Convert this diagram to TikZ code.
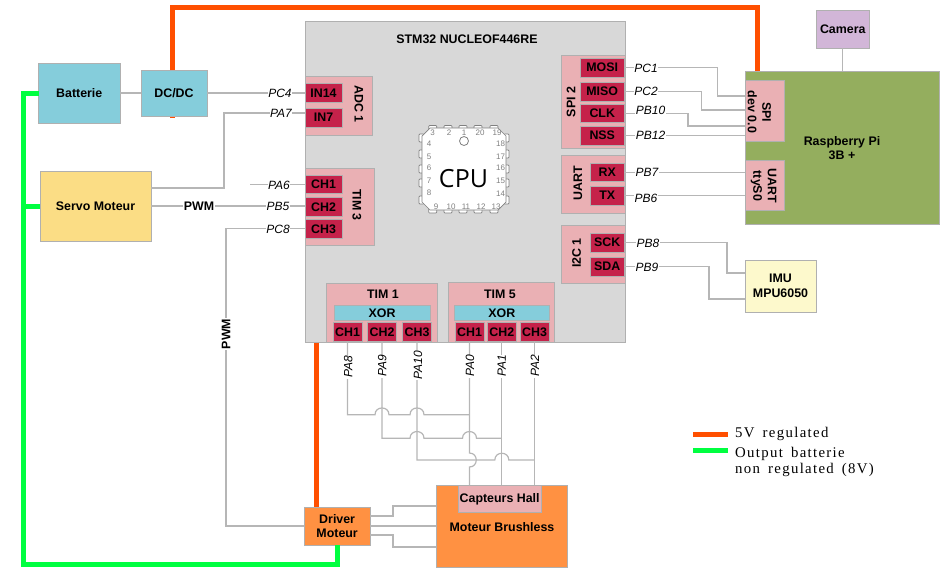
\documentclass[tikz,border=0pt]{standalone}
\usepackage{fontspec}
\setmainfont{Liberation Sans}
\newfontfamily\cpufont{Open Sans}
\newfontfamily\legendfont[LetterSpace=9,WordSpace=1.6]{Liberation Serif}
\definecolor{edgegrey}{HTML}{B0B0B0}
\definecolor{wiregrey}{HTML}{B6B6B6}
\definecolor{boardgrey}{HTML}{D8D8D8}
\definecolor{grouppink}{HTML}{EAB0B4}
\definecolor{pincrimson}{HTML}{C5224A}
\definecolor{teal}{HTML}{85CDDB}
\definecolor{servoyellow}{HTML}{FBDD85}
\definecolor{rpigreen}{HTML}{94AE5E}
\definecolor{campurple}{HTML}{D2B6D8}
\definecolor{motorange}{HTML}{FF9142}
\definecolor{imucream}{HTML}{FDF9CC}
\definecolor{fivevolt}{HTML}{FF4F00}
\definecolor{batgreen}{HTML}{00FF40}
\tikzset{
  box/.style={draw=edgegrey, line width=1pt, anchor=north west, inner sep=0pt, outer sep=0pt, align=center,
    font=\fontsize{12.4}{14.5}\selectfont\bfseries},
  group/.style={box, fill=grouppink},
  pinbox/.style={box, fill=pincrimson},
  txt/.style={inner sep=0pt, align=center, font=\fontsize{12.4}{14.5}\selectfont\bfseries},
  pinlbl/.style={fill=white, inner sep=0.6pt, font=\fontsize{12}{14}\selectfont\itshape},
  wire/.style={draw=wiregrey, line width=1.2pt},
  vfive/.style={draw=fivevolt, line width=5pt},
  vbat/.style={draw=batgreen, line width=5pt},
  chipnum/.style={text=gray, inner sep=0pt, font=\fontsize{8}{9}\selectfont},
  chippad/.style={draw=gray, fill=white, line width=0.7pt, rounded corners=0.8pt}
}
% jumps of a wire over another one
\newcommand{\hopx}[2]{-- (#1-7,#2) .. controls (#1-7,#2-9) and (#1+7,#2-9) .. (#1+7,#2)}
\newcommand{\hopy}[2]{-- (#1,#2-7) .. controls (#1+9,#2-7) and (#1+9,#2+7) .. (#1,#2+7)}
\begin{document}
\begin{tikzpicture}[x=1pt, y=-1pt]
  \useasboundingbox (0,0) rectangle (950,576);

  % power lines under the boxes
  \coordinate (fivea) at (172,7);
  \coordinate (fiveb) at (757.5,7);
  \coordinate (bata) at (23,564);

  % board
  \node[box, fill=boardgrey, minimum width=320pt, minimum height=321pt] (board) at (305,21) {};
  \node[txt] (boardname) at (467,39) {STM32 NUCLEOF446RE};

  % chip
  \foreach \x in {432.7,448,463,478,494} {
    \draw[chippad] (\x-4,125.5) rectangle (\x+4,130);
    \draw[chippad] (\x-4,208) rectangle (\x+4,213);
  }
  \foreach \y in {138,154,169,183,200} {
    \draw[chippad] (419,\y-4) rectangle (424,\y+4);
    \draw[chippad] (504,\y-4) rectangle (509,\y+4);
  }
  \draw[draw=gray, fill=white, line width=0.7pt] (430,128) -- (498,128) -- (506,136) -- (506,202)
    -- (498,210) -- (430,210) -- (422,202) -- (422,136) -- cycle;
  \draw[draw=gray, line width=0.8pt] (464,141) circle (4.5pt);
  \foreach \x/\n in {432.7/3,449/2,464/1,480/20,497/19} \node[chipnum] (num\n) at (\x,133) {\n};
  \foreach \y/\n in {144/4,157/5,168/6,181/7,193/8} \node[chipnum] (num\n) at (429,\y) {\n};
  \foreach \y/\n in {144/18,157/17,168/16,181/15,194/14} \node[chipnum] (num\n) at (500.6,\y) {\n};
  \foreach \x/\n in {436/9,451/10,466/11,481/12,496/13} \node[chipnum] (num\n) at (\x,206.7) {\n};
  \node[inner sep=0pt, font=\fontsize{25}{27}\selectfont\cpufont] (cpu) at (463.5,178.5) {CPU};

  % peripherals on the left
  \node[group, minimum width=67pt, minimum height=59pt] (adc) at (305,76) {};
  \node[txt, rotate=-90] (adcname) at (359,104) {ADC 1};
  \node[pinbox, minimum width=37pt, minimum height=19pt] (inf) at (305,83.5) {IN14};
  \node[pinbox, minimum width=37pt, minimum height=19pt] (ins) at (305,108) {IN7};
  \node[group, minimum width=69.5pt, minimum height=77pt] (timc) at (305,168) {};
  \node[txt, rotate=-90] (timcname) at (357,205) {TIM 3};
  \node[pinbox, minimum width=37pt, minimum height=18.5pt] (tca) at (305,175) {CH1};
  \node[pinbox, minimum width=37pt, minimum height=18.5pt] (tcb) at (305,197.5) {CH2};
  \node[pinbox, minimum width=37pt, minimum height=18.5pt] (tcc) at (305,219.5) {CH3};

  % peripherals on the right
  \node[group, minimum width=64pt, minimum height=93pt] (spib) at (561,55) {};
  \node[txt, rotate=90] (spibname) at (571,102) {SPI 2};
  \node[pinbox, minimum width=44.5pt, minimum height=19pt] (mosi) at (580,58) {MOSI};
  \node[pinbox, minimum width=44.5pt, minimum height=19pt] (miso) at (580,82) {MISO};
  \node[pinbox, minimum width=44.5pt, minimum height=18.5pt] (clk) at (580,104) {CLK};
  \node[pinbox, minimum width=44.5pt, minimum height=19pt] (nss) at (580,126) {NSS};
  \node[group, minimum width=64pt, minimum height=58pt] (uart) at (561,155) {};
  \node[txt, rotate=90] (uartname) at (578,183) {UART};
  \node[pinbox, minimum width=33.5pt, minimum height=18.5pt] (rx) at (590.5,163) {RX};
  \node[pinbox, minimum width=33.5pt, minimum height=19pt] (tx) at (590.5,186) {TX};
  \node[group, minimum width=64pt, minimum height=58pt] (iic) at (561,225) {};
  \node[txt, rotate=90] (iicname) at (576.5,253) {I2C 1};
  \node[pinbox, minimum width=33.5pt, minimum height=19pt] (sck) at (590.5,233) {SCK};
  \node[pinbox, minimum width=33.5pt, minimum height=19pt] (sda) at (590.5,257) {SDA};

  % timers at the bottom
  \node[group, minimum width=111pt, minimum height=59pt] (tima) at (326.7,283) {};
  \node[txt] (timaname) at (383,294) {TIM 1};
  \node[box, fill=teal, minimum width=95.7pt, minimum height=15.7pt] (xora) at (334.3,305) {XOR};
  \node[pinbox, minimum width=29pt, minimum height=18.7pt] (taa) at (333,322.7) {CH1};
  \node[pinbox, minimum width=29pt, minimum height=18.7pt] (tab) at (367.5,322.7) {CH2};
  \node[pinbox, minimum width=29pt, minimum height=18.7pt] (tac) at (402.5,322.7) {CH3};
  \node[group, minimum width=106pt, minimum height=59.3pt] (timb) at (448,282.7) {};
  \node[txt] (timbname) at (500,294) {TIM 5};
  \node[box, fill=teal, minimum width=95.7pt, minimum height=15.7pt] (xorb) at (454,305) {XOR};
  \node[pinbox, minimum width=29pt, minimum height=18.7pt] (tba) at (455,322.7) {CH1};
  \node[pinbox, minimum width=29pt, minimum height=18.7pt] (tbb) at (487.3,322.7) {CH2};
  \node[pinbox, minimum width=29pt, minimum height=18.7pt] (tbc) at (520,322.7) {CH3};

  % outer boxes
  \draw[vfive] (172,116) -- (172,118);
  \node[box, fill=teal, minimum width=81.5pt, minimum height=60pt] (batt) at (38.5,63) {Batterie};
  \node[box, fill=teal, minimum width=66pt, minimum height=46pt] (dcdc) at (141,70) {DC/DC};
  \node[box, fill=servoyellow, minimum width=111pt, minimum height=70pt] (servo) at (40,171) {Servo Moteur};
  \node[box, fill=campurple, minimum width=52.5pt, minimum height=38pt] (camera) at (816.5,10) {Camera};
  \node[box, fill=rpigreen, minimum width=194pt, minimum height=153pt] (rpi) at (745,71) {};
  \node[txt] (rpiname) at (842,148) {Raspberry Pi\\3B +};
  \node[group, minimum width=39pt, minimum height=61pt] (spidev) at (745,80) {};
  \node[txt, rotate=-90] (spidevname) at (759.5,112) {SPI\\dev 0.0};
  \node[group, minimum width=39pt, minimum height=50pt] (uartdev) at (745,160) {};
  \node[txt, rotate=-90] (uartdevname) at (763.5,186) {UART\\ttyS0};
  \node[box, fill=imucream, minimum width=71pt, minimum height=52pt] (imu) at (745,260) {IMU\\MPU6050};
  \node[box, fill=motorange, minimum width=131pt, minimum height=82pt] (motor) at (436.3,485.3) {};
  \node[txt] (motorname) at (502,527) {Moteur Brushless};
  \node[box, fill=grouppink, minimum width=83.3pt, minimum height=27.5pt] (hall) at (458,485.3) {Capteurs Hall};
  \node[box, fill=motorange, minimum width=65.7pt, minimum height=38pt] (driver) at (304.3,507) {Driver\\Moteur};

  % power
  \draw[vfive] (dcdc.north -| fivea) -- (fivea) -- (fiveb) -- (rpi.north -| fiveb);
  \draw[vfive] (316.3,342.5) -- (driver.north -| 316.3,0);
  \draw[vbat] (batt.west) -| (bata) -| (driver.south);
  \draw[vbat] (servo.west) -- (servo.west -| bata);

  % signals
  \draw[wire] (batt.east) -- (dcdc.west);
  \draw[wire] (dcdc.east) -- (inf.west);
  \draw[wire] (servo.east |- 0,188) -- (224,188) -- (224,113) -- (ins.west |- 0,113);
  \draw[wire] (250,184.25) -- (tca.west);
  \draw[wire] (servo.east) -- (tcb.west |- servo.east);
  \draw[wire] (tcc.west) -| (226,526) -- (driver.west);
  \draw[wire] (camera.south) -- (rpi.north -| camera.south);
  \draw[wire] (mosi.east) -| (717.5,96) -- (spidev.west |- 0,96);
  \draw[wire] (miso.east) -| (701.5,110) -- (spidev.west |- 0,110);
  \draw[wire] (clk.east) -| (688,126) -- (spidev.west |- 0,126);
  \draw[wire] (nss.east) -- (spidev.west |- nss.east);
  \draw[wire] (rx.east) -- (uartdev.west |- rx.east);
  \draw[wire] (tx.east) -- (uartdev.west |- tx.east);
  \draw[wire] (sck.east) -| (727,273) -- (imu.west |- 0,273);
  \draw[wire] (sda.east) -| (709,299) -- (imu.west |- 0,299);
  \draw[wire] (driver.east |- 0,516) -- (393,516) -- (393,506) -- (motor.west |- 0,506);
  \draw[wire] (driver.east) -- (motor.west |- driver.east);
  \draw[wire] (driver.east |- 0,535) -- (393,535) -- (393,547) -- (motor.west |- 0,547);

  % hall sensors
  \draw[wire] (taa.south) -- (347.5,414.7) \hopx{382}{414.7} \hopx{417}{414.7} -- (469.5,414.7);
  \draw[wire] (tab.south) -- (382,438.3) \hopx{417}{438.3} \hopx{469.5}{438.3} -- (501.8,438.3);
  \draw[wire] (tac.south) -- (417,460) \hopx{501.8}{460} -- (534.5,460);
  \draw[wire] (tba.south) \hopy{469.5}{460} -- (hall.north -| tba.south);
  \draw[wire] (tbb.south) -- (hall.north -| tbb.south);
  \draw[wire] (tbc.south) -- (hall.north -| tbc.south);

  % pin names
  \node[pinlbl] (pcfour) at (280,93) {PC4};
  \node[pinlbl] (pasev) at (281,113) {PA7};
  \node[pinlbl] (pasix) at (279,185.5) {PA6};
  \node[pinlbl] (pbfive) at (278,206.5) {PB5};
  \node[pinlbl] (pceig) at (278,229) {PC8};
  \node[pinlbl] (pcone) at (646,68) {PC1};
  \node[pinlbl] (pctwo) at (646,91) {PC2};
  \node[pinlbl] (pbten) at (650.5,110) {PB10};
  \node[pinlbl] (pbtwe) at (650.5,135.5) {PB12};
  \node[pinlbl] (pbsev) at (647,172) {PB7};
  \node[pinlbl] (pbsix) at (646,198) {PB6};
  \node[pinlbl] (pbeig) at (648,243) {PB8};
  \node[pinlbl] (pbnin) at (647,267) {PB9};
  \node[pinlbl, rotate=90] (paeig) at (348.3,367) {PA8};
  \node[pinlbl, rotate=90] (panin) at (382.3,366) {PA9};
  \node[pinlbl, rotate=90] (paten) at (418,365) {PA10};
  \node[pinlbl, rotate=90] (pazer) at (470,366) {PA0};
  \node[pinlbl, rotate=90] (paone) at (501.8,366) {PA1};
  \node[pinlbl, rotate=90] (patwo) at (535,366) {PA2};
  \node[txt, fill=white, inner sep=0.6pt] (pwmh) at (199,206.5) {PWM};
  \node[txt, fill=white, inner sep=0.6pt, rotate=90] (pwmv) at (226,334) {PWM};

  % legend
  \coordinate (lega) at (693,434);
  \coordinate (legb) at (693,450);
  \draw[vfive] (lega) -- ++(35,0);
  \draw[vbat] (legb) -- ++(35,0);
  \node[anchor=west, inner sep=0pt, font=\fontsize{14.8}{16}\selectfont\legendfont] (legfive) at (735,434) {5V regulated};
  \node[anchor=north west, inner sep=0pt, align=left, font=\fontsize{14.8}{16}\selectfont\legendfont] (legbat) at (735,447) {Output batterie\\non regulated (8V)};
\end{tikzpicture}
\end{document}
